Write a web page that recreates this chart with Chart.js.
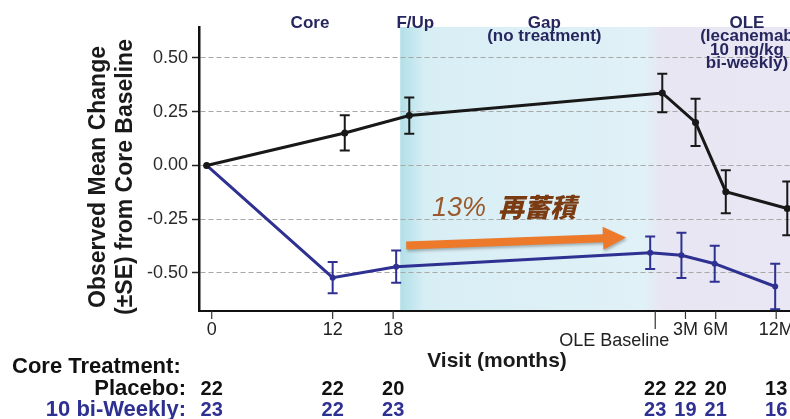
<!DOCTYPE html>
<html>
<head>
<meta charset="utf-8">
<script src="https://cdn.jsdelivr.net/npm/chart.js@4/dist/chart.umd.min.js"></script>
<style>
  html, body { margin: 0; padding: 0; background: #ffffff; }
  #wrap { width: 790px; height: 419px; position: relative; }
</style>
</head>
<body>
<div id="wrap"><canvas id="chart" width="790" height="419"></canvas></div>
<script>
// Visit axis: month positions of the labelled visits
const tickMonths = [0, 12, 18, 44, 47, 50, 56];
const tickLabels = ['0', '12', '18', 'OLE Baseline', '3M', '6M', '12M'];

// Subjects at each visit, by core treatment
const placeboN = [22, 22, 20, 22, 22, 20, 13];
const biweeklyN = [23, 22, 23, 23, 19, 21, 16];

// Placebo (core) group: visit month, mean change, standard error
const placeboMonths = [-0.5, 13.2, 19.6, 44.7, 48.0, 51.0, 57.1];
const placeboMean = [0, 0.151, 0.232, 0.337, 0.200, -0.122, -0.200];
const placeboSE = [0, 0.082, 0.084, 0.089, 0.110, 0.100, 0.125];

// 10 mg/kg bi-weekly (core) group
const biweeklyMonths = [-0.5, 12.0, 18.3, 43.5, 46.6, 49.9, 55.9];
const biweeklyMean = [0, -0.522, -0.471, -0.406, -0.418, -0.457, -0.563];
const biweeklySE = [0, 0.073, 0.075, 0.076, 0.105, 0.084, 0.106];

// Value axis ticks
const yTicks = [0.5, 0.25, 0, -0.25, -0.5];

// Study periods shown above the plot
const phaseNames = ['Core', 'F/Up', 'Gap', 'OLE'];
const phaseNotes = [[], [], ['(no treatment)'], ['(lecanemab', '10 mg/kg', 'bi-weekly)']];
const phaseCentres = [9.75, 20.2, 33.0, 53.1];

const FONT = '"Liberation Sans", Arial, Helvetica, sans-serif';
const BLACK = '#181818';
const BLUE = '#2e3192';
const NAVY = '#27275f';

// shaded background for the follow-up, gap and open-label periods
const bandsPlugin = {
  id: 'periodBands',
  beforeDraw(chart) {
    const { ctx, chartArea: { top, bottom, right }, scales: { x } } = chart;
    const x0 = x.getPixelForValue(18.7);
    const span = right - x0;
    const at = m => Math.min(1, Math.max(0, (x.getPixelForValue(m) - x0) / span));
    const g = ctx.createLinearGradient(x0, 0, right, 0);
    g.addColorStop(0, '#b2dfe7');
    g.addColorStop(at(19.2), '#b9e2ea');
    g.addColorStop(at(21.2), '#d8eef5');
    g.addColorStop(at(42.9), '#e0f1f7');
    g.addColorStop(at(44.6), '#e8e6f2');
    g.addColorStop(1, '#e9e7f3');
    ctx.save();
    ctx.fillStyle = g;
    ctx.fillRect(x0, top, right - x0, bottom - top);
    ctx.restore();
  }
};

// ±SE whiskers for every visit
const seByDataset = [placeboSE, biweeklySE];
const errorBarsPlugin = {
  id: 'errorBars',
  beforeDatasetsDraw(chart) {
    const { ctx, scales: { x, y } } = chart;
    chart.data.datasets.forEach((ds, di) => {
      const se = seByDataset[di];
      ctx.save();
      ctx.strokeStyle = ds.borderColor;
      ctx.lineWidth = 2;
      ds.data.forEach((p, i) => {
        if (!se[i]) return;
        const cx = x.getPixelForValue(p.x);
        const yt = y.getPixelForValue(p.y + se[i]);
        const yb = y.getPixelForValue(p.y - se[i]);
        ctx.beginPath();
        ctx.moveTo(cx, yt); ctx.lineTo(cx, yb);
        ctx.moveTo(cx - 5, yt); ctx.lineTo(cx + 5, yt);
        ctx.moveTo(cx - 5, yb); ctx.lineTo(cx + 5, yb);
        ctx.stroke();
      });
      ctx.restore();
    });
  }
};

// re-accumulation callout: text and arrow
const calloutPlugin = {
  id: 'callout',
  afterDatasetsDraw(chart) {
    const { ctx, scales: { x, y } } = chart;
    ctx.save();
    const tx = x.getPixelForValue(21.85), ty = y.getPixelForValue(-0.237);
    ctx.textBaseline = 'alphabetic';
    ctx.textAlign = 'left';
    ctx.fillStyle = '#9a5a2c';
    ctx.font = 'italic 300 27px ' + FONT;
    ctx.fillText('13%', tx, ty);
    ctx.fillStyle = '#7a3b12';
    ctx.font = 'italic 900 26px "Noto Sans CJK SC", sans-serif';
    ctx.fillText('再蓄積', tx + 66, ty + 1);

    const ax0 = x.getPixelForValue(19.3), ay0 = y.getPixelForValue(-0.372);
    const ax1 = x.getPixelForValue(41.1), ay1 = y.getPixelForValue(-0.335);
    const ang = Math.atan2(ay1 - ay0, ax1 - ax0);
    const len = Math.hypot(ax1 - ax0, ay1 - ay0);
    ctx.translate(ax0, ay0);
    ctx.rotate(ang);
    ctx.shadowColor = 'rgba(0,0,0,0.28)';
    ctx.shadowBlur = 3;
    ctx.shadowOffsetX = 1;
    ctx.shadowOffsetY = 2;
    ctx.fillStyle = '#ec7a2a';
    ctx.beginPath();
    ctx.moveTo(0, -4);
    ctx.lineTo(len - 23, -4);
    ctx.lineTo(len - 23, -11.5);
    ctx.lineTo(len, 0);
    ctx.lineTo(len - 23, 11.5);
    ctx.lineTo(len - 23, 4);
    ctx.lineTo(0, 4);
    ctx.closePath();
    ctx.fill();
    ctx.restore();
  }
};

// period headers, visit labels, axis titles and the subject-count table
const textPlugin = {
  id: 'chartText',
  afterDraw(chart) {
    const { ctx, chartArea: { bottom }, scales: { x } } = chart;
    ctx.save();

    // period headers
    ctx.fillStyle = NAVY;
    ctx.textAlign = 'center';
    ctx.textBaseline = 'alphabetic';
    ctx.font = 'bold 17px ' + FONT;
    phaseNames.forEach((name, i) => {
      const cx = x.getPixelForValue(phaseCentres[i]);
      ctx.fillText(name, cx, 28);
      phaseNotes[i].forEach((line, j) => ctx.fillText(line, cx, 41 + j * 13.5));
    });

    // visit tick marks and labels
    ctx.strokeStyle = '#333';
    ctx.lineWidth = 1.2;
    ctx.fillStyle = '#222';
    ctx.font = '18px ' + FONT;
    ctx.textBaseline = 'middle';
    tickMonths.forEach((m, i) => {
      const px = x.getPixelForValue(m);
      const long = tickLabels[i] === 'OLE Baseline';
      ctx.beginPath();
      ctx.moveTo(px, bottom);
      ctx.lineTo(px, bottom + (long ? 18 : 8));
      ctx.stroke();
      if (long) {
        ctx.textAlign = 'right';
        ctx.fillText(tickLabels[i], px + 14, 341);
      } else {
        ctx.textAlign = 'center';
        ctx.fillText(tickLabels[i], px, 330);
      }
    });

    // x axis title
    ctx.fillStyle = '#1a1a1a';
    ctx.textAlign = 'center';
    ctx.font = 'bold 21px ' + FONT;
    ctx.fillText('Visit (months)', 497, 361);

    // y axis title
    ctx.font = 'bold 23px ' + FONT;
    ctx.textBaseline = 'alphabetic';
    [['Observed Mean Change', 104.5], ['(±SE) from Core Baseline', 131.5]].forEach(([t, bx]) => {
      ctx.save();
      ctx.translate(bx, 177);
      ctx.rotate(-Math.PI / 2);
      ctx.fillText(t, 0, 0);
      ctx.restore();
    });

    // subject counts
    ctx.textBaseline = 'middle';
    ctx.font = 'bold 22px ' + FONT;
    ctx.textAlign = 'left';
    ctx.fillStyle = '#111';
    ctx.fillText('Core Treatment:', 12, 367);
    ctx.textAlign = 'right';
    ctx.fillText('Placebo:', 186, 389);
    ctx.fillStyle = BLUE;
    ctx.fillText('10 bi-Weekly:', 186, 410);
    ctx.textAlign = 'center';
    ctx.font = 'bold 20px ' + FONT;
    tickMonths.forEach((m, i) => {
      const px = x.getPixelForValue(m);
      ctx.fillStyle = '#111';
      ctx.fillText(String(placeboN[i]), px, 389);
      ctx.fillStyle = BLUE;
      ctx.fillText(String(biweeklyN[i]), px, 410);
    });
    ctx.restore();
  }
};

const toPoints = (xs, ys) => xs.map((m, i) => ({ x: m, y: ys[i] }));

new Chart(document.getElementById('chart'), {
  type: 'line',
  data: {
    datasets: [
      {
        label: 'Placebo',
        data: toPoints(placeboMonths, placeboMean),
        borderColor: BLACK,
        backgroundColor: BLACK,
        borderWidth: 3,
        pointRadius: 3.5,
        pointBorderWidth: 0,
        tension: 0
      },
      {
        label: '10 bi-Weekly',
        data: toPoints(biweeklyMonths, biweeklyMean),
        borderColor: BLUE,
        backgroundColor: BLUE,
        borderWidth: 3,
        pointRadius: 3,
        pointBorderWidth: 0,
        tension: 0
      }
    ]
  },
  options: {
    responsive: false,
    animation: false,
    devicePixelRatio: 1,
    layout: { autoPadding: false, padding: { top: 27, left: 0, right: 0, bottom: 0 } },
    plugins: { legend: { display: false }, tooltip: { enabled: false }, title: { display: false } },
    scales: {
      x: {
        type: 'linear',
        min: -1.26,
        max: 57.37,
        afterBuildTicks: s => { s.ticks = tickMonths.map(v => ({ value: v })); },
        ticks: { display: false },
        grid: { display: false },
        border: { display: true, color: '#111', width: 2 },
        afterFit: s => { s.height = 108; }
      },
      y: {
        type: 'linear',
        min: -0.677,
        max: 0.644,
        afterBuildTicks: s => { s.ticks = yTicks.map(v => ({ value: v })); },
        ticks: {
          callback: v => v.toFixed(2),
          font: { family: FONT, size: 18 },
          color: '#2a2a2a',
          padding: 4
        },
        grid: {
          color: '#a8a8a8',
          lineWidth: 1,
          drawTicks: true,
          tickLength: 7,
          tickColor: '#222',
          tickWidth: 1.5
        },
        border: { display: true, color: '#111', width: 2.5, dash: [5, 3] },
        afterFit: s => { s.width = 199; }
      }
    }
  },
  plugins: [bandsPlugin, errorBarsPlugin, calloutPlugin, textPlugin]
});
</script>
</body>
</html>
